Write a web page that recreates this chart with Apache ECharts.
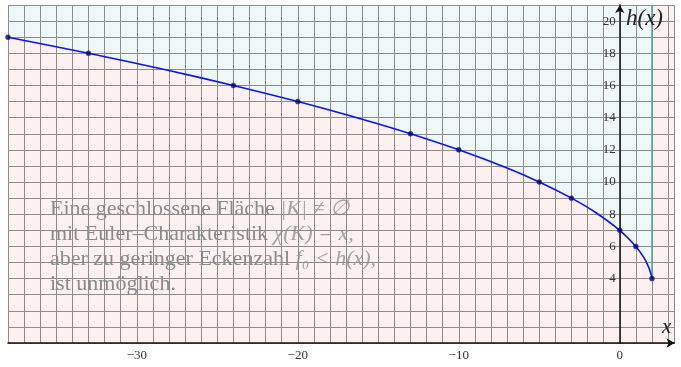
<!DOCTYPE html>
<html lang="de">
<head>
    <meta charset="UTF-8">
    <title>h(x)</title>
    <style>
        html, body { margin: 0; padding: 0; background: #fff; }
        #main { width: 681px; height: 367px; }
    </style>
</head>
<body>
    <div id="main"></div>
    <script src="https://cdn.jsdelivr.net/npm/echarts@6/dist/echarts.min.js"></script>
    <script>
        // Eckpunkte auf der Kurve (markiert)
        const markX = [-38, -33, -24, -20, -13, -10, -5, -3, 0, 1, 2]
        const markY = [19, 18, 16, 15, 13, 12, 10, 9, 7, 6, 4]
        const curveX = [-38, -33, -28, -24, -20, -16, -13, -10, -7, -5, -3, -1.5, 0, 1, 1.5, 1.8, 1.95, 2]
        const curveY = [19, 18, 16.93, 16, 15, 13.9, 13, 12, 10.87, 10, 9, 8.11, 7, 6, 5.3, 4.7, 4.24, 4]
        // senkrechte Linie bei x = 2
        const wallX = [2, 2]
        const wallY = [4, 21]
        const xTicks = [-30, -20, -10, 0]
        const yTicks = [4, 6, 8, 10, 12, 14, 16, 18, 20]

        const serif = '"Liberation Serif", "DejaVu Serif", serif'
        const gridColor = '#8c8c8c'

        const myChart = echarts.init(document.getElementById('main'))

        const zip = (xs, ys) => xs.map((x, i) => [x, ys[i]])

        const richStyle = {
            t: { fontFamily: serif, fontSize: 22, fill: '#8a8a8a' },
            m: { fontFamily: serif, fontSize: 22, fontStyle: 'italic', fill: '#a2a2a2' }
        }
        const textLines = [
            '{t|Eine geschlossene Fläche }{m||K| ≠ ∅}',
            '{t|mit Euler–Charakteristik }{m|χ(K) = x,}',
            '{t|aber zu geringer Eckenzahl }{m|f₀ < h(x),}',
            '{t|ist unmöglich.}'
        ]

        const option = {
            animation: false,
            grid: {
                left: 8, top: 5, right: 6.5, bottom: 24,
                outerBoundsMode: 'none',
                containLabel: false,
                show: true,
                backgroundColor: '#fdf0f0',
                borderWidth: 0
            },
            xAxis: {
                type: 'value',
                min: -38, max: 3.4, interval: 1,
                z: 3,
                axisLine: { lineStyle: { color: '#111', width: 1.5 }, symbol: ['none', 'arrow'], symbolSize: [7, 8] },
                axisTick: { show: false },
                splitLine: { show: true, lineStyle: { color: gridColor, width: 1 } },
                axisLabel: {
                    fontFamily: serif, fontSize: 13, color: '#333', margin: 6,
                    showMinLabel: true, showMaxLabel: false,
                    formatter: v => xTicks.includes(v) ? (v < 0 ? '\u2212' + (-v) : String(v)) : ''
                }
            },
            yAxis: {
                type: 'value',
                min: 0, max: 21, interval: 1,
                z: 3,
                position: 'left',
                offset: -611.8,
                axisLine: { onZero: false, lineStyle: { color: '#111', width: 1.5 }, symbol: ['none', 'arrow'], symbolSize: [7, 8] },
                axisTick: { show: false },
                splitLine: { show: true, lineStyle: { color: gridColor, width: 1 } },
                axisLabel: {
                    fontFamily: serif, fontSize: 13, color: '#333', margin: 4,
                    formatter: v => yTicks.includes(v) ? String(v) : ''
                }
            },
            graphic: [
                { type: 'text', left: 626, top: 7, z: 10, style: { text: 'h(x)', font: 'italic 23px ' + serif, fill: '#222' } },
                { type: 'text', left: 662, top: 317, z: 10, style: { text: 'x', font: 'italic 21px ' + serif, fill: '#222' } }
            ].concat(textLines.map((t, i) => ({
                type: 'text', left: 50, top: 198 + i * 25, z: 1,
                style: { text: t, rich: richStyle }
            }))),
            series: [
                {
                    // Flaeche oberhalb der Kurve
                    type: 'line',
                    data: zip(curveX, curveY),
                    smooth: 0.3,
                    showSymbol: false,
                    lineStyle: { width: 0 },
                    areaStyle: { origin: 'end', color: '#eff8f8', opacity: 1 },
                    z: 1,
                    silent: true
                },
                {
                    type: 'line',
                    data: zip(wallX, wallY),
                    showSymbol: false,
                    lineStyle: { color: '#5aa6a6', width: 1.5 },
                    z: 5
                },
                {
                    type: 'line',
                    data: zip(curveX, curveY),
                    smooth: 0.3,
                    showSymbol: false,
                    lineStyle: { color: '#0a14f0', width: 1.6 },
                    z: 6
                },
                {
                    type: 'scatter',
                    data: zip(markX, markY),
                    symbolSize: 5,
                    itemStyle: { color: '#0a0a40', borderColor: '#1a1aff', borderWidth: 0.6 },
                    clip: false,
                    z: 7
                }
            ]
        }

        myChart.setOption(option)
    </script>
</body>
</html>
